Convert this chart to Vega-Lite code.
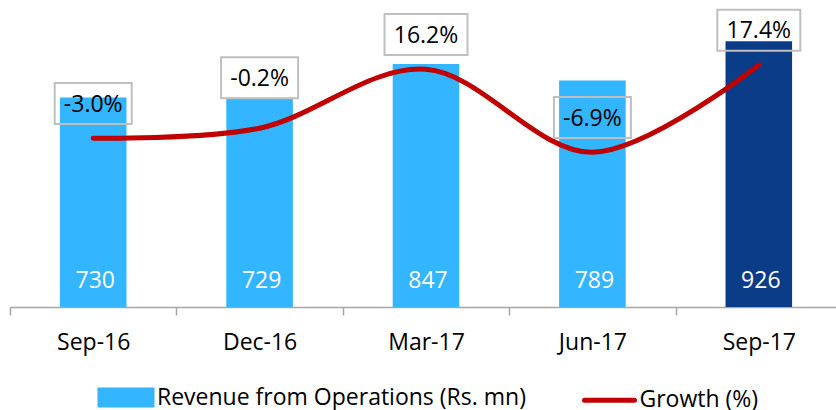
{
  "$schema": "https://vega.github.io/schema/vega-lite/v6.json",
  "width": 826,
  "height": 307,
  "autosize": {"type": "none"},
  "padding": {"left": 10, "top": 0, "right": 0, "bottom": 103},
  "background": "white",
  "config": {"view": {"stroke": null}, "font": "Open Sans"},
  "data": {
    "values": [
      {"month": "Sep-16", "revenue": 730, "growth": -3.0, "label": "-3.0%"},
      {"month": "Dec-16", "revenue": 729, "growth": -0.2, "label": "-0.2%"},
      {"month": "Mar-17", "revenue": 847, "growth": 16.2, "label": "16.2%"},
      {"month": "Jun-17", "revenue": 789, "growth": -6.9, "label": "-6.9%"},
      {"month": "Sep-17", "revenue": 926, "growth": 17.4, "label": "17.4%"}
    ]
  },
  "encoding": {
    "x": {
      "field": "month",
      "type": "ordinal",
      "sort": null,
      "scale": {"type": "band", "paddingInner": 0, "paddingOuter": 0, "range": [0, 832]},
      "axis": {
        "title": null,
        "labelAngle": 0,
        "labelFont": "Open Sans",
        "labelFontSize": 23,
        "labelFontWeight": "normal",
        "labelColor": "#000000",
        "labelPadding": 16,
        "tickBand": "extent",
        "tickSize": 8,
        "tickColor": "#A6A6A6",
        "tickWidth": 1.5,
        "domainColor": "#A6A6A6",
        "domainWidth": 1.5,
        "grid": false
      }
    }
  },
  "layer": [
    {
      "mark": {"type": "bar", "width": {"band": 0.4}},
      "encoding": {
        "y": {"field": "revenue", "type": "quantitative", "scale": {"domain": [0, 1070], "nice": false, "zero": true}, "axis": null},
        "color": {
          "datum": "Revenue from Operations (Rs. mn)",
          "type": "nominal",
          "condition": {"test": "datum.month === 'Sep-17'", "value": "#0B3C87"},
          "scale": {"domain": ["Revenue from Operations (Rs. mn)", "Growth (%)"], "range": ["#33B5FF", "#C00000"]},
          "legend": {
            "orient": "none",
            "legendX": 88,
            "legendY": 385,
            "direction": "horizontal",
            "title": null,
            "padding": 0,
            "labelFont": "Open Sans",
            "labelFontSize": 23,
            "labelColor": "#000000",
            "labelLimit": 600,
            "symbolSize": 400,
            "symbolStrokeWidth": 5,
            "labelOffset": 34,
            "columnPadding": 48.5,
            "symbolOpacity": 1,
            "encode": {
              "symbols": {
                "update": {
                  "shape": {"signal": "datum.value === 'Growth (%)' ? 'M-0.85,0H4.15' : 'M-1.05,-0.75H4.15V0.75H-1.05Z'"},
                  "size": {"value": 400},
                  "fill": {"signal": "datum.value === 'Growth (%)' ? 'transparent' : '#33B5FF'"},
                  "stroke": {"signal": "datum.value === 'Growth (%)' ? '#C00000' : 'transparent'"},
                  "strokeWidth": {"value": 5},
                  "strokeCap": {"value": "round"},
                  "opacity": {"value": 1}
                }
              }
            }
          }
        }
      }
    },
    {
      "mark": {"type": "text", "color": "white", "fontSize": 23, "font": "Open Sans", "baseline": "middle", "yOffset": -26, "dx": 2},
      "encoding": {
        "y": {"datum": 0, "type": "quantitative", "scale": {"domain": [0, 1070], "nice": false}, "axis": null},
        "text": {"field": "revenue", "type": "quantitative"}
      }
    },
    {
      "mark": {"type": "line", "interpolate": "cardinal", "strokeWidth": 5, "strokeCap": "round"},
      "encoding": {
        "y": {"field": "growth", "type": "quantitative", "scale": {"domain": [-50, 35.5], "nice": false, "zero": false}, "axis": null},
        "color": {"datum": "Growth (%)", "type": "nominal"}
      }
    },
    {
      "mark": {
        "type": "point",
        "shape": {"expr": "datum.growth < 0 ? 'M-1,-0.532H1V0.532H-1Z' : 'M-1,-0.494H1V0.494H-1Z'"},
        "size": {"expr": "datum.growth < 0 ? 5929 : 6889"},
        "filled": false,
        "stroke": "#BFBFBF",
        "strokeWidth": 2,
        "opacity": 1,
        "yOffset": {"expr": "datum.month === 'Dec-16' ? -50.4 : -34.7"}
      },
      "encoding": {
        "y": {"field": "growth", "type": "quantitative", "scale": {"domain": [-50, 35.5], "nice": false, "zero": false}, "axis": null}
      }
    },
    {
      "mark": {
        "type": "text",
        "color": "#000000",
        "fontSize": 23,
        "font": "Open Sans",
        "baseline": "middle",
        "dy": 1,
        "yOffset": {"expr": "datum.month === 'Dec-16' ? -50.4 : -34.7"}
      },
      "encoding": {
        "y": {"field": "growth", "type": "quantitative", "scale": {"domain": [-50, 35.5], "nice": false, "zero": false}, "axis": null},
        "text": {"field": "label", "type": "nominal"}
      }
    }
  ],
  "resolve": {"scale": {"y": "independent"}}
}
